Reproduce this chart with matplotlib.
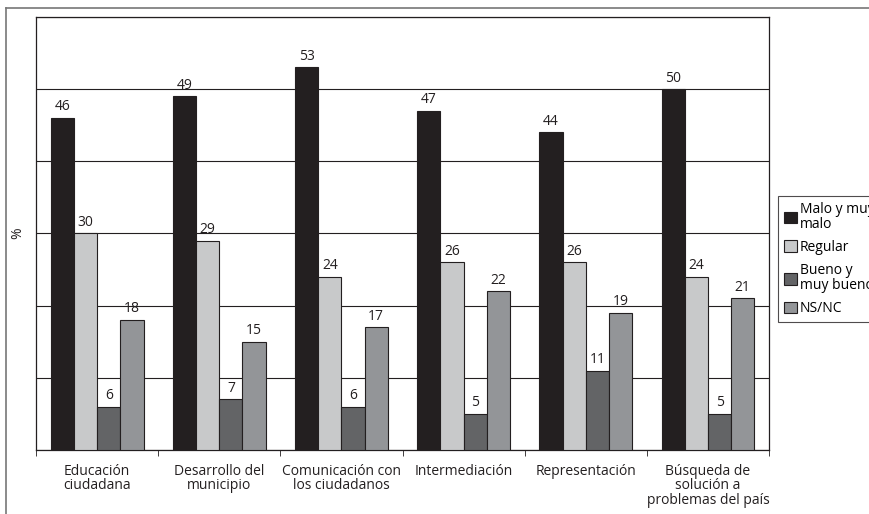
import numpy as np
import matplotlib
matplotlib.use('Agg')
import matplotlib.pyplot as plt
from matplotlib.lines import Line2D

categories = ["Educación\nciudadana", "Desarrollo del\nmunicipio", "Comunicación con\nlos ciudadanos",
              "Intermediación", "Representación", "Búsqueda de\nsolución a\nproblemas del país"]
series_names = ["Malo y muy\nmalo", "Regular", "Bueno y\nmuy bueno", "NS/NC"]
malo = [46, 49, 53, 47, 44, 50]
regular = [30, 29, 24, 26, 26, 24]
bueno = [6, 7, 6, 5, 11, 5]
nsnc = [18, 15, 17, 22, 19, 21]
colors = ["#231f20", "#c8c9ca", "#636466", "#939598"]


def main():
    plt.rcParams['font.family'] = ['Open Sans', 'DejaVu Sans']
    fig = plt.figure(figsize=(8.7, 5.14), dpi=100)
    ax = fig.add_axes([0.0414, 0.1245, 0.8426, 0.8425])

    x = np.arange(len(categories))
    w = 0.19
    for i, (vals, col) in enumerate(zip([malo, regular, bueno, nsnc], colors)):
        pos = x - 1.5 * w + i * w
        ax.bar(pos, vals, width=w, color=col, edgecolor='#231f20', linewidth=0.8,
               label=series_names[i], zorder=3)
        for p, v in zip(pos, vals):
            ax.text(p, v + 0.5, str(v), ha='center', va='bottom', fontsize=10,
                    color='#231f20', zorder=4)

    ax.set_ylim(0, 60)
    ax.set_xlim(-0.5, len(categories) - 0.5)
    ax.set_yticks(np.arange(0, 61, 10))
    ax.set_yticklabels([])
    ax.tick_params(axis='y', length=0)
    ax.yaxis.grid(True, color='#231f20', linewidth=0.8, zorder=0)
    ax.set_xticks(x)
    ax.set_xticklabels(categories, fontsize=10, color='#231f20', linespacing=0.95)
    ax.tick_params(axis='x', length=0, pad=10)
    ax.set_xticks(np.arange(-0.5, len(categories), 1), minor=True)
    ax.tick_params(axis='x', which='minor', length=4, color='#231f20')
    for s in ax.spines.values():
        s.set_color('#231f20')
        s.set_linewidth(0.9)
    ax.set_ylabel('%', fontsize=10, color='#231f20', labelpad=4)

    leg = fig.legend(loc='upper left', bbox_to_anchor=(778 / 870, 1 - 196 / 514),
                     fontsize=10, frameon=True, fancybox=False, edgecolor='#231f20',
                     handlelength=0.9, handleheight=0.9, handletextpad=0.2,
                     borderpad=0.45, borderaxespad=0, labelspacing=0.6)
    leg.get_frame().set_linewidth(0.8)
    # legend box in the original is a bit tight on the right
    for t in leg.get_texts():
        t.set_linespacing(0.95)

    # outer frame lines of the page
    fig.add_artist(Line2D([6 / 870, 1], [1 - 8 / 514, 1 - 8 / 514], color='#777777', linewidth=1.2))
    fig.add_artist(Line2D([6 / 870, 6 / 870], [0, 1 - 8 / 514], color='#777777', linewidth=1.2))

    plt.savefig('out.png', dpi=100)


if __name__ == "__main__":
    main()
